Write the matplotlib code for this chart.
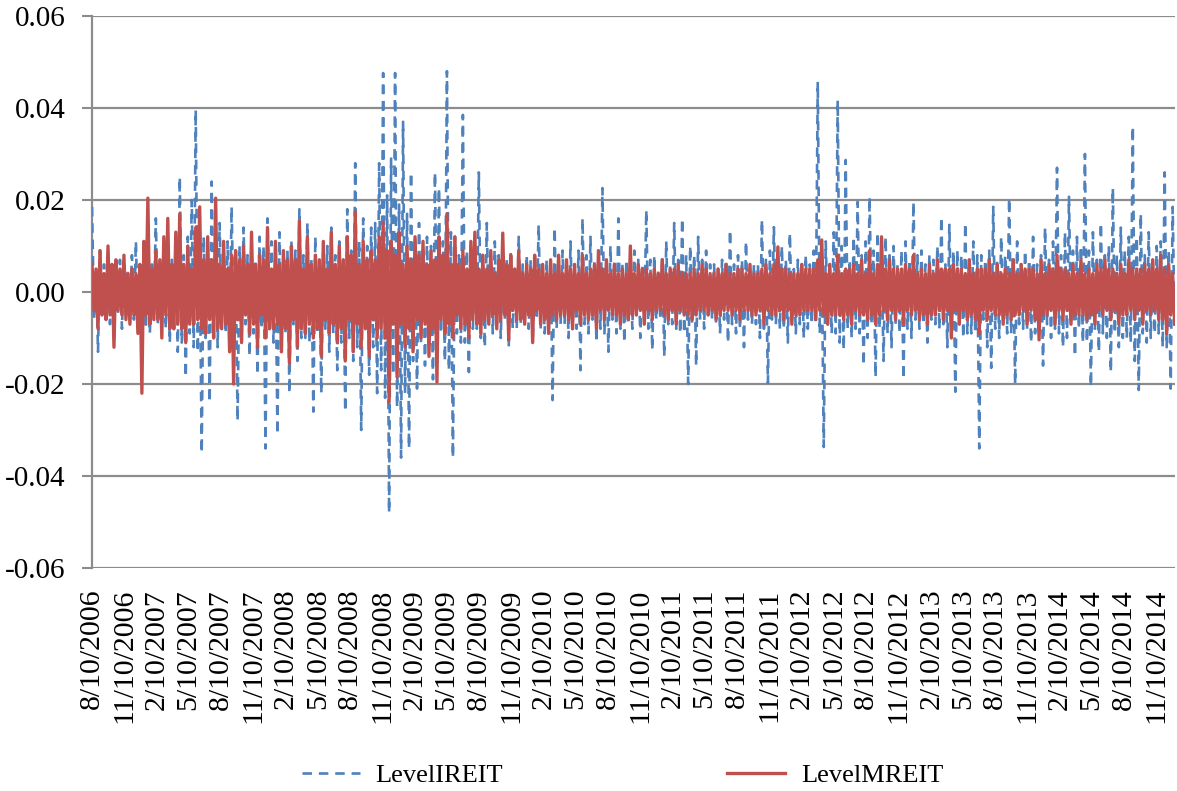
import matplotlib
matplotlib.use("Agg")
import matplotlib.pyplot as plt
import matplotlib.dates as mdates
from matplotlib.ticker import FuncFormatter, FixedLocator
import pandas as pd

# Return series, values in per mille (1 = 0.001)
start_date = "2006-08-10"
end_date = "2014-12-31"

level_ireit = [
    18.5,-6, 5,-13, 9,-5, 6,-6, 7,-7, 4,-10, 6,-5, 7,-8, 6,-4, 5,-5,
    8,-6, 11,-7, 5,-7, 5,-8, 6,-9, 6,-5, 16,-7, 6,-6, 9,-8, 7,-11,
    7,-8, 9,-13, 25,-11, 8,-18.5, 12,-9, 20,-12, 39.6,-13, 8,-35, 12,-10, 9,-24,
    24,-8, 10,-12, 15,-7, 9,-9, 11,-11, 18.5,-6, 8,-28, 10,-9, 14,-7, 8,-14,
    9,-9, 7,-18, 12,-8, 10,-34, 16,-6, 11,-11, 8,-31, 13,-10, 7,-9, 9,-22,
    11,-7, 9,-15, 18,-10, 8,-10, 15,-11, 7,-26, 12,-9, 6,-22, 10,-8, 10,-13,
    14,-9, 8,-17, 11,-11, 7,-26, 18,-10, 9,-15, 28,-12, 11,-30, 16,-8, 10,-18,
    14,-12, 15,-22, 28,-17, 47.6,-23, 21,-48, 29,-18, 47.6,-25, 19,-36, 37,-22, 17,-34,
    26,-15, 12,-21, 15,-11, 9,-16, 12,-12, 10,-19, 26,-13, 22.6,-9, 11,-15, 48,-17,
    13,-36, 12,-9, 8,-11, 38.5,-11, 9,-17.4, 10,-8, 7,-8, 26,-10, 8,-12, 15,-7,
    6,-9, 11,-7, 8,-10, 7,-6, 7,-12, 9,-8, 5,-8, 12,-7, 6,-6, 8,-8,
    7,-11, 6,-6, 14.6,-8, 6,-9, 7,-9, 7,-23.5, 14,-8, 5,-7, 9,-7, 6,-10,
    11,-8, 6,-8, 9,-17, 16,-7, 8,-9, 12,-6, 7,-11, 6,-8, 22.6,-9, 7,-13,
    10,-6, 7,-9, 16,-8, 6,-11, 7,-7, 8,-8, 9,-5, 7,-10, 6,-6, 17.8,-8,
    7,-12.6, 8,-6, 5,-6, 8,-14, 11,-7, 6,-7, 15,-8, 7,-9, 16,-9, 8,-20,
    10,-7, 8,-16, 12,-6, 7,-8, 9,-5, 6,-6, 6,-7, 5,-9, 7,-6, 7,-11,
    13.5,-7, 6,-9, 8,-8, 7,-12, 11,-6, 5,-7, 6,-7, 6,-10, 15.7,-8, 7,-19.8,
    9,-6, 14.1,-7, 6,-8, 10,-8, 7,-11, 12.8,-6, 5,-9, 7,-7, 6,-10, 8,-8,
    6,-7, 9,-7, 45.7,-9, 8,-33.7, 11,-7, 6,-9, 13,-9, 41.7,-11, 10,-12.6, 28.7,-8,
    7,-10, 12,-8, 19.6,-9, 8,-16, 11,-10, 20.7,-7, 9,-18.5, 13,-8, 7,-15, 12,-9,
    8,-12, 10,-7, 6,-9, 9,-19, 11,-8, 7,-10, 19.6,-6, 8,-8, 9,-7, 6,-11,
    8,-6, 7,-7, 10,-8, 16.3,-7, 6,-12, 14.6,-8, 9,-21.7, 9,-7, 8,-10, 15,-9,
    7,-9, 11,-9, 8,-34, 8,-6, 7,-12, 9,-16.5, 18.5,-8, 7,-10, 12,-6, 8,-9,
    20.4,-9, 8,-20, 11,-7, 6,-8, 9,-8, 7,-11, 12,-9, 6,-9, 8,-16, 14,-7,
    7,-10, 11,-8, 27,-9, 8,-12, 13,-10, 20.7,-7, 9,-14, 12,-8, 10,-11, 30,-11,
    9,-20.6, 13,-8, 7,-13, 15,-9, 8,-10, 10,-17.4, 22.6,-9, 8,-12, 14,-10, 9,-10,
    12,-11, 36,-15, 12,-21.3, 17,-9, 8,-11, 13,-10, 7,-9, 10,-9, 11,-12, 26,-12,
    9,-21, 18.5,-8,
]

level_mreit = [
    6,-4, 5,-8, 9,-5, 4,-6, 10,-5, 6,-12, 7,-4, 5,-5, 8,-6, 4,-7,
    5,-5, 4,-9, 6,-22, 11,-5, 20.4,-7, 5,-6, 9,-6, 7,-10, 12,-5, 16,-8,
    6,-8, 13,-7, 17,-8, 6,-11, 10,-7, 5,-7, 14,-6, 18.5,-8, 7,-9, 12,-6,
    7,-10, 20.4,-8, 6,-8, 11,-7, 5,-13, 8,-20, 9,-6, 7,-11, 10,-5, 6,-9,
    13,-7, 6,-12, 8,-5, 7,-10, 14,-8, 5,-8, 11,-7, 6,-13, 9,-8, 7,-15.5,
    10,-6, 7,-12, 15.5,-8, 5,-9, 12,-7, 6,-10, 8,-8, 7,-14, 11,-6, 5,-9,
    13,-7, 6,-11, 10,-8, 7,-15, 12,-6, 8,-13, 17.4,-7, 6,-12, 11,-8, 7,-14,
    9,-6, 7,-10, 12,-8, 15,-10, 9,-24, 11,-7, 8,-18.5, 13,-7, 6,-12, 10,-8,
    7,-13, 12,-6, 8,-10, 11,-7, 6,-14, 9,-8, 7,-19.6, 12,-6, 8,-9, 17,-7,
    6,-10, 12,-5, 6,-8, 9,-7, 5,-10, 11,-6, 13,-7, 5,-9, 8,-6, 5,-7,
    9,-5, 4,-8, 7,-6, 12.8,-5, 6,-10.4, 8,-4, 5,-6, 9,-6, 4,-7, 6,-5,
    5,-11, 8,-4, 5,-7, 6,-6, 4,-9, 7,-5, 4,-6, 8,-5, 4,-5, 7,-6,
    5,-8, 6,-4, 4,-7, 8,-5, 4,-6, 5,-5, 6,-8, 9,-4, 5,-6, 7,-4,
    4,-5, 6,-5, 4,-7, 5,-5, 4,-6, 10,-5, 4,-5, 6,-4, 5,-7, 5,-4,
    4,-6, 5,-4, 4,-4, 7,-5, 4,-6, 5,-4, 5,-7, 6,-4, 4,-5, 4,-5,
    4,-6, 5,-5, 4,-4, 6,-4, 5,-5, 4,-4, 4,-6, 5,-5, 4,-4, 6,-4,
    4,-5, 4,-4, 5,-6, 5,-4, 4,-4, 6,-5, 4,-5, 4,-4, 5,-7, 6,-4,
    4,-5, 6,-5, 9.8,-4, 5,-6, 5,-4, 4,-7, 4,-5, 4,-5, 6,-4, 5,-4,
    5,-4, 5,-6, 7,-4, 11.3,-5, 4,-7, 6,-5, 4,-5, 8,-5, 4,-6, 5,-5,
    5,-7, 6,-4, 4,-5, 7,-5, 4,-6, 9,-5, 4,-7, 6,-5, 12,-4, 5,-6,
    7,-4, 5,-6, 5,-4, 5,-7, 6,-4, 5,-5, 8,-4, 4,-6, 5,-5, 4,-7,
    6,-5, 4,-5, 7,-4, 5,-6, 5,-4, 5,-10, 6,-4, 5,-7, 5,-4, 4,-6,
    7,-5, 4,-6, 5,-9, 5,-4, 5,-6, 7,-4, 4,-5, 6,-5, 4,-7, 5,-5,
    4,-6, 7,-5, 4,-5, 6,-4, 5,-7, 5,-4, 5,-6, 4,-10.4, 7,-5, 4,-5,
    6,-4, 5,-7, 8,-4, 5,-6, 5,-4, 4,-7, 6,-5, 4,-5, 7,-5, 4,-6,
    5,-5, 4,-7, 6,-4, 5,-5, 7,-4, 5,-6, 5,-4, 4,-7, 6,-5, 4,-5,
    7,-4, 5,-6, 5,-4, 5,-7, 6,-4, 5,-5, 7,-4, 5,-6, 8,-6, 5,-9,
    6,-5, 4,-7,
]

series_names = ["LevelIREIT", "LevelMREIT"]
y_ticks = [-0.06, -0.04, -0.02, 0.00, 0.02, 0.04, 0.06]
x_tick_dates = pd.date_range("2006-08-01", "2014-11-01", freq="3MS") + pd.Timedelta(days=9)

PER_MILLE = 1e-3
x_i = pd.date_range(start_date, end_date, periods=len(level_ireit))
x_m = pd.date_range(start_date, end_date, periods=len(level_mreit))
y_i = [v * PER_MILLE for v in level_ireit]
y_m = [v * PER_MILLE for v in level_mreit]

plt.rcParams["font.family"] = "Liberation Serif"
plt.rcParams["font.weight"] = "normal"

fig = plt.figure(figsize=(11.77, 7.91), dpi=100)
ax = fig.add_axes([0.0782, 0.2819, 0.9198, 0.6979])

blue = "#4F81BD"
red = "#C0504D"
ax.plot(x_i, y_i, color=blue, lw=1.9, linestyle=(0, (3.6, 2.6)),
        label=series_names[0], zorder=3)
ax.plot(x_m, y_m, color=red, lw=2.4, linestyle="-",
        label=series_names[1], zorder=4)

ax.set_xlim(pd.Timestamp(start_date), pd.Timestamp(end_date))
ax.set_ylim(-0.06, 0.06)
ax.set_yticks(y_ticks)
ax.yaxis.set_major_formatter(FuncFormatter(lambda v, p: f"{v:.2f}" if abs(v) > 1e-9 else "0.00"))
ax.yaxis.grid(True, color="#8c8c8c", lw=1.6, zorder=0)
ax.set_axisbelow(True)

ax.xaxis.set_major_locator(FixedLocator(mdates.date2num(x_tick_dates)))
ax.set_xticklabels([f"{d.month}/{d.day}/{d.year}" for d in x_tick_dates],
                   rotation=90, fontsize=21.5)
ax.tick_params(axis="x", length=0, pad=15)
ax.tick_params(axis="y", length=7, width=1.5, color="#8c8c8c", labelsize=21, pad=12)

for s in ["top", "right", "bottom"]:
    ax.spines[s].set_visible(False)
ax.spines["left"].set_color("#8c8c8c")
ax.spines["left"].set_linewidth(1.6)

fig.legend(loc="center", bbox_to_anchor=(0.529, 0.02), ncol=2, frameon=False,
           fontsize=19, handlelength=2.2, columnspacing=8.5, handletextpad=0.6)

fig.savefig("out.png", dpi=100)
